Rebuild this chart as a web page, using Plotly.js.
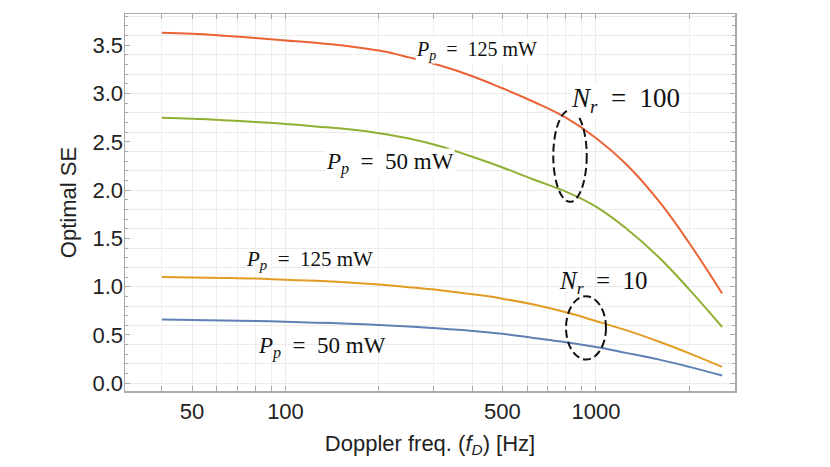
<!DOCTYPE html>
<html>
<head>
<meta charset="utf-8">
<script src="https://cdn.plot.ly/plotly-3.0.1.min.js"></script>
<style>
  html, body { margin: 0; padding: 0; background: #fff; }
  #chart { width: 830px; height: 467px; }
</style>
</head>
<body>
<div id="chart"></div>
<script>
// Doppler frequency samples [Hz]
var freq = [40, 50, 63, 80, 100, 125, 160, 200, 250, 315, 400, 500, 630, 800, 1000, 1250, 1600, 2000, 2550];

// Optimal SE
var se_nr100_p125 = [3.63, 3.62, 3.60, 3.575, 3.55, 3.525, 3.49, 3.445, 3.375, 3.29, 3.18, 3.055, 2.915, 2.75, 2.54, 2.27, 1.88, 1.45, 0.93];
var se_nr100_p50  = [2.75, 2.74, 2.725, 2.705, 2.685, 2.66, 2.63, 2.59, 2.535, 2.455, 2.345, 2.235, 2.11, 1.985, 1.83, 1.605, 1.30, 0.97, 0.583];
var se_nr10_p125  = [1.10, 1.096, 1.091, 1.084, 1.072, 1.062, 1.044, 1.022, 0.995, 0.963, 0.922, 0.876, 0.815, 0.735, 0.645, 0.55, 0.43, 0.31, 0.17];
var se_nr10_p50   = [0.66, 0.656, 0.651, 0.645, 0.637, 0.628, 0.617, 0.603, 0.587, 0.567, 0.542, 0.512, 0.47, 0.425, 0.375, 0.315, 0.245, 0.17, 0.08];

var xLabels = [50, 100, 500, 1000];
var xMinor = [40, 60, 70, 80, 90, 200, 300, 400, 600, 700, 800, 900, 2000];

var blue = '#5E81B5', orange = '#E19C24', green = '#8FB032', red = '#EB6235';

function curve(y, color) {
  return {
    x: freq, y: y, type: 'scatter', mode: 'lines',
    line: {color: color, width: 2, shape: 'spline', smoothing: 1.2},
    showlegend: false, hoverinfo: 'skip'
  };
}

var data = [
  curve(se_nr10_p50, blue),
  curve(se_nr10_p125, orange),
  curve(se_nr100_p50, green),
  curve(se_nr100_p125, red),
  // carrier for the 0.2 grid axis
  {x: [100], y: [0], yaxis: 'y2', type: 'scatter', mode: 'lines', showlegend: false, hoverinfo: 'skip'}
];

var frame = '#aaaaaa';
var yRange = [-0.08, 3.824];
var serif = 'Liberation Serif, Times New Roman, serif';

function label(txt, x, y, size, bg) {
  return {
    text: txt, x: x, y: y, xref: 'x', yref: 'y', showarrow: false,
    font: {family: serif, size: size, color: '#111'},
    bgcolor: bg ? '#ffffff' : 'rgba(0,0,0,0)', borderpad: 0
  };
}

function ellipse(x0, x1, y0, y1) {
  return {type: 'circle', xref: 'paper', yref: 'paper', x0: x0, x1: x1, y0: y0, y1: y1,
          line: {color: '#111', width: 2, dash: '8px,4px'}};
}

var layout = {
  width: 830, height: 467,
  margin: {l: 125, r: 95, t: 14, b: 76},
  paper_bgcolor: '#fff', plot_bgcolor: '#fff',
  font: {family: 'Liberation Sans, Arial, sans-serif', size: 22, color: '#222'},
  xaxis: {
    type: 'log', range: [1.483, 3.448],
    tickmode: 'array', tickvals: xLabels, ticktext: xLabels.map(String),
    ticks: 'inside', ticklen: 5, tickcolor: frame,
    showline: true, linecolor: frame, linewidth: 1.5, mirror: 'allticks',
    showgrid: true, gridcolor: '#ebebeb', zeroline: false,
    minor: {tickmode: 'array', tickvals: xMinor, ticks: 'inside', ticklen: 4, tickcolor: frame, showgrid: true, gridcolor: '#efefef'},
    title: {text: 'Doppler freq. (<i>f</i><sub><i>D</i></sub>) [Hz]', font: {size: 22}, standoff: 12}
  },
  yaxis: {
    range: yRange, tick0: 0, dtick: 0.5, tickformat: '.1f',
    ticks: 'inside', ticklen: 5, tickcolor: frame, ticklabelstandoff: -4,
    showline: true, linecolor: frame, linewidth: 1.5, mirror: 'allticks',
    showgrid: false, zeroline: false,
    minor: {dtick: 0.1, ticks: 'inside', ticklen: 3, tickcolor: frame, showgrid: false},
    title: {text: 'Optimal SE', font: {size: 22}, standoff: 10}
  },
  yaxis2: {
    overlaying: 'y', range: yRange, tick0: 0, dtick: 0.2,
    showgrid: true, gridcolor: '#ebebeb', showticklabels: false,
    ticks: '', showline: false, zeroline: false
  },
  annotations: [
    label('<i>P</i><sub><i>p</i></sub>  =  125 mW', 2.6165, 3.45, 20, true),
    label('<i>P</i><sub><i>p</i></sub>  =  50 mW', 2.336, 2.28, 23, true),
    label('<i>N</i><sub><i>r</i></sub>  =  100', 3.0967, 2.933, 27, true),
    label('<i>P</i><sub><i>p</i></sub>  =  125 mW', 2.0767, 1.275, 21, false),
    label('<i>P</i><sub><i>p</i></sub>  =  50 mW', 2.117, 0.373, 23, false),
    label('<i>N</i><sub><i>r</i></sub>  =  10', 3.0258, 1.047, 25, false)
  ],
  shapes: [
    ellipse(0.7021, 0.7569, 0.5017, 0.7452),
    ellipse(0.7230, 0.7885, 0.0834, 0.2514)
  ]
};

Plotly.newPlot('chart', data, layout, {staticPlot: true, displayModeBar: false});
</script>
</body>
</html>
